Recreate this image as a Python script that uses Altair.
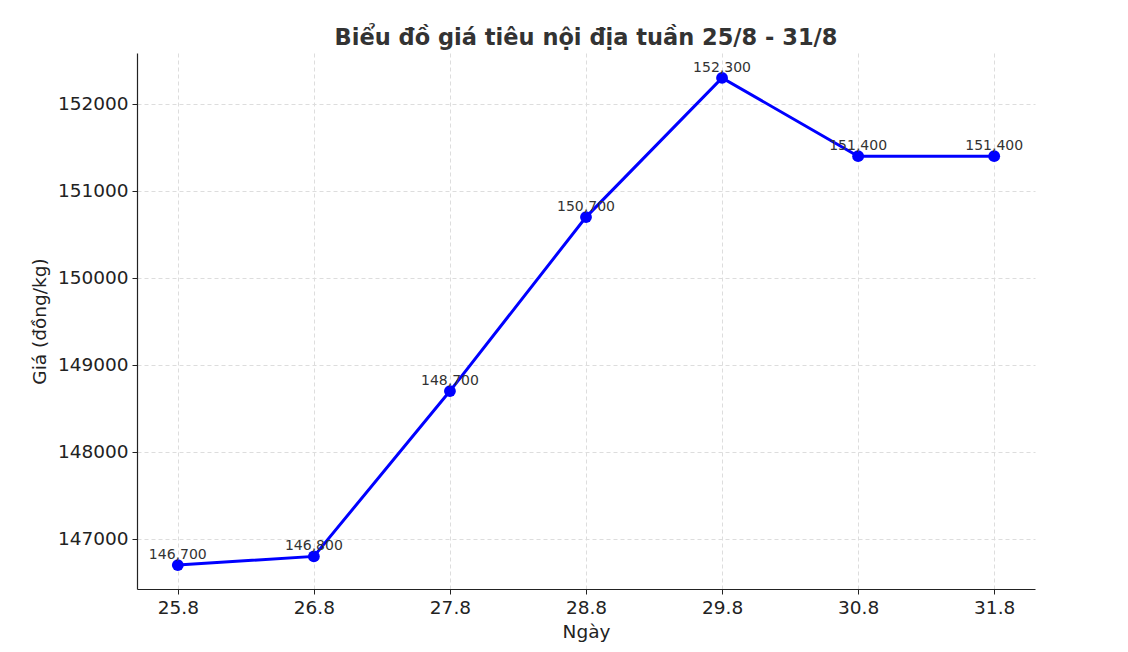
import altair as alt
import pandas as pd

days = ["25.8", "26.8", "27.8", "28.8", "29.8", "30.8", "31.8"]
prices = [146700, 146800, 148700, 150700, 152300, 151400, 151400]
y_ticks = [147000, 148000, 149000, 150000, 151000, 152000]

df = pd.DataFrame({"day": days, "price": prices})

FONT = "DejaVu Sans"

x = alt.X("day:N", sort=days, title="Ngày",
          scale=alt.Scale(type="point", padding=0.3),
          axis=alt.Axis(labelAngle=0, labelFontSize=18.5, titleFontSize=18.5,
                        labelColor="#222", titleColor="#222", titleFontWeight="normal",
                        grid=True, gridDash=[4, 3], gridColor="#dddddd",
                        domainColor="#222", domainWidth=1.2, tickColor="#222",
                        tickSize=5, labelPadding=4, titlePadding=6, labelFont=FONT, titleFont=FONT))
y = alt.Y("price:Q", title="Giá (đồng/kg)",
          scale=alt.Scale(domain=[146425, 152586], nice=False, zero=False),
          axis=alt.Axis(values=y_ticks, format="d", labelFontSize=18.5, titleFontSize=18.5,
                        labelColor="#222", titleColor="#222", titleFontWeight="normal",
                        grid=True, gridDash=[4, 3], gridColor="#dddddd",
                        domainColor="#222", domainWidth=1.2, tickColor="#222",
                        tickSize=5, labelPadding=4, titlePadding=8, labelFont=FONT, titleFont=FONT))

base = alt.Chart(df).encode(x=x, y=y)
line = base.mark_line(color="#0000ff", strokeWidth=3)
pts = base.mark_point(filled=True, color="#0000ff", size=140, opacity=1)
labels = base.mark_text(dy=-10, fontSize=14, color="#333333", font=FONT).encode(
    text=alt.Text("price:Q", format=",")
)

chart = (line + pts + labels).properties(
    width=898, height=536,
    padding={"left": 129, "top": 45, "right": 80, "bottom": 55},
    autosize=alt.AutoSizeParams(type="none"),
    title=alt.TitleParams("Biểu đồ giá tiêu nội địa tuần 25/8 - 31/8", fontSize=22.5,
                          font=FONT, fontWeight="bold", color="#333333", offset=4),
).configure_view(stroke=None).configure_axis(labelFont=FONT, titleFont=FONT)

chart.save("out.html", embed_options={"renderer": "svg", "actions": False})
